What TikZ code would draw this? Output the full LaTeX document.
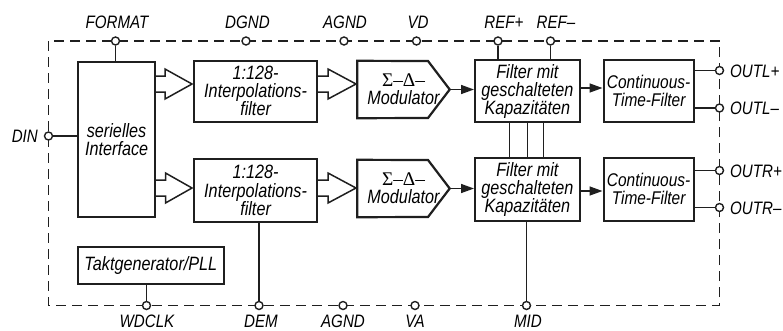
\documentclass[tikz,border=0pt]{standalone}
\usepackage{fontspec}
\setmainfont{Liberation Sans}[FakeStretch=0.84]
\newfontfamily\symfont{Liberation Serif}
\usetikzlibrary{arrows.meta}
\tikzset{
  x=1pt,y=-1pt,
  box/.style={draw=black!88,line width=2.2pt,inner sep=0pt,align=center,font=\fontsize{19.3}{18}\selectfont\itshape},
  modshape/.style={inner sep=0pt,align=center,font=\fontsize{19.3}{18}\selectfont\itshape},
  outline/.style={draw=black!88,line width=2.2pt,line join=miter},
  wire/.style={draw=black!88,line width=1.5pt},
  arrowwire/.style={wire,-{Triangle[length=13pt,width=9pt]}},
  hollow/.style={draw=black!88,line width=1.5pt,line join=miter},
  border/.style={draw=black!88,line width=1.2pt,dash pattern=on 10pt off 6pt},
  pin/.style={circle,draw=black!88,fill=white,line width=1.4pt,inner sep=0pt,minimum size=8pt},
  lab/.style={inner sep=0pt,font=\fontsize{18}{20}\selectfont\itshape}
}
\newcommand{\hollowarrow}[4]{% from x, head x, tip x, mid y
  \draw[hollow] (#1,#4-8) -- (#2,#4-8) -- (#2,#4-15) -- (#3,#4) -- (#2,#4+15) -- (#2,#4+8) -- (#1,#4+8);}
\newcommand{\boxat}[6]{% name x0 y0 x1 y1 text
  \node[box,minimum width=#4pt-#2pt,minimum height=#5pt-#3pt,anchor=north west] (#1) at (#2,#3) {#6};}
\begin{document}
\begin{tikzpicture}
\useasboundingbox (0,0) rectangle (783,330);
% border
\coordinate (bnw) at (48.5,41);
\coordinate (bse) at (719.5,305.5);
\draw[border] (bnw) rectangle (bse);
% blocks
\boxat{ser}{77}{61}{154}{216}{serielles\\Interface}
\boxat{ifa}{193}{59.5}{316}{120.5}{1:128-\\Interpolations-\\filter}
\boxat{ifb}{193}{158}{316}{220.5}{1:128-\\Interpolations-\\filter}
\boxat{sca}{474}{59}{578.5}{121}{Filter mit\\geschalteten\\Kapazitäten}
\boxat{scb}{474}{157}{578.5}{219.5}{Filter mit\\geschalteten\\Kapazitäten}
\boxat{cta}{602.5}{59}{692.5}{121}{\fontsize{18.4}{18}\selectfont Continuous-\\\fontsize{18.4}{18}\selectfont Time-Filter}
\boxat{ctb}{602.5}{157}{692.5}{219.5}{\fontsize{18.4}{18}\selectfont Continuous-\\\fontsize{18.4}{18}\selectfont Time-Filter}
\boxat{clk}{77}{246}{222.5}{283}{Taktgenerator/PLL}
% modulators
\node[modshape,minimum width=92pt,minimum height=57pt] (moda) at (403.5,89.5) {{\symfont\upshape Σ–Δ–}\\Modulator\hspace{4pt}};
\node[modshape,minimum width=92pt,minimum height=57pt] (modb) at (403.5,188.5) {{\symfont\upshape Σ–Δ–}\\Modulator\hspace{4pt}};
\draw[outline] (moda.north west) -- (428,61) -- (moda.east) -- (428,118) -- (moda.south west) -- cycle;
\draw[outline] (modb.north west) -- (428,160) -- (modb.east) -- (428,217) -- (modb.south west) -- cycle;
% hollow arrows
\hollowarrow{154}{165}{192}{84}
\hollowarrow{316}{328}{356}{84}
\hollowarrow{154}{165.5}{192}{188}
\hollowarrow{316}{328}{356}{188}
% signal arrows
\draw[arrowwire] (moda.east) -- (moda.east -| sca.west);
\draw[arrowwire] (modb.east) -- (modb.east -| scb.west);
\draw[arrowwire] (sca.east |- 0,88) -- (cta.west |- 0,88);
\draw[arrowwire] (scb.east |- 0,191) -- (ctb.west |- 0,191);
% links
\draw[wire] (509.5,121) -- (509.5,157);
\draw[wire] (sca.south) -- (scb.north);
\draw[wire] (543.5,121) -- (543.5,157);
% pins
\foreach \n/\x/\y in {format/115.5/41,dgnd/246/41,agndt/344/41,vd/416.5/41,refp/498/41,refm/550.5/41,
  wdclk/146.5/305.5,dem/259/305.5,agndb/343/305.5,va/415/305.5,mid/526.5/305.5,
  din/48.5/136,outlp/719.5/70.5,outlm/719.5/108,outrp/719.5/170.5,outrm/719.5/207.5}
  \node[pin] (\n) at (\x,\y) {};
% pin wires
\draw[wire] (format) -- (format |- ser.north);
\draw[wire] (refp) -- (refp |- sca.north);
\draw[wire] (refm) -- (refm |- sca.north);
\draw[wire] (din) -- (din -| ser.west);
\draw[wire] (wdclk) -- (wdclk |- clk.south);
\draw[wire] (dem) -- (dem |- ifb.south);
\draw[wire] (mid) -- (mid |- scb.south);
\draw[wire] (outlp) -- (outlp -| cta.east);
\draw[wire] (outlm) -- (outlm -| cta.east);
\draw[wire] (outrp) -- (outrp -| ctb.east);
\draw[wire] (outrm) -- (outrm -| ctb.east);
% labels
\node[lab] (lformat) at (117,22.5) {FORMAT};
\node[lab] (ldgnd) at (247.5,22.5) {DGND};
\node[lab] (lagndt) at (345,22.5) {AGND};
\node[lab] (lvd) at (418,22.5) {VD};
\node[lab] (lrefp) at (504,22.5) {REF+};
\node[lab] (lrefm) at (556,22.5) {REF–};
\node[lab] (lwdclk) at (147,321) {WDCLK};
\node[lab] (ldem) at (261,321) {DEM};
\node[lab] (lagndb) at (343,321) {AGND};
\node[lab] (lva) at (415,321) {VA};
\node[lab] (lmid) at (528,321) {MID};
\node[lab,anchor=east] (ldin) at (38,136) {DIN};
\node[lab,anchor=west] (loutlp) at (730,71) {OUTL+};
\node[lab,anchor=west] (loutlm) at (730,108) {OUTL–};
\node[lab,anchor=west] (loutrp) at (730,171) {OUTR+};
\node[lab,anchor=west] (loutrm) at (730,208) {OUTR–};
\end{tikzpicture}
\end{document}
